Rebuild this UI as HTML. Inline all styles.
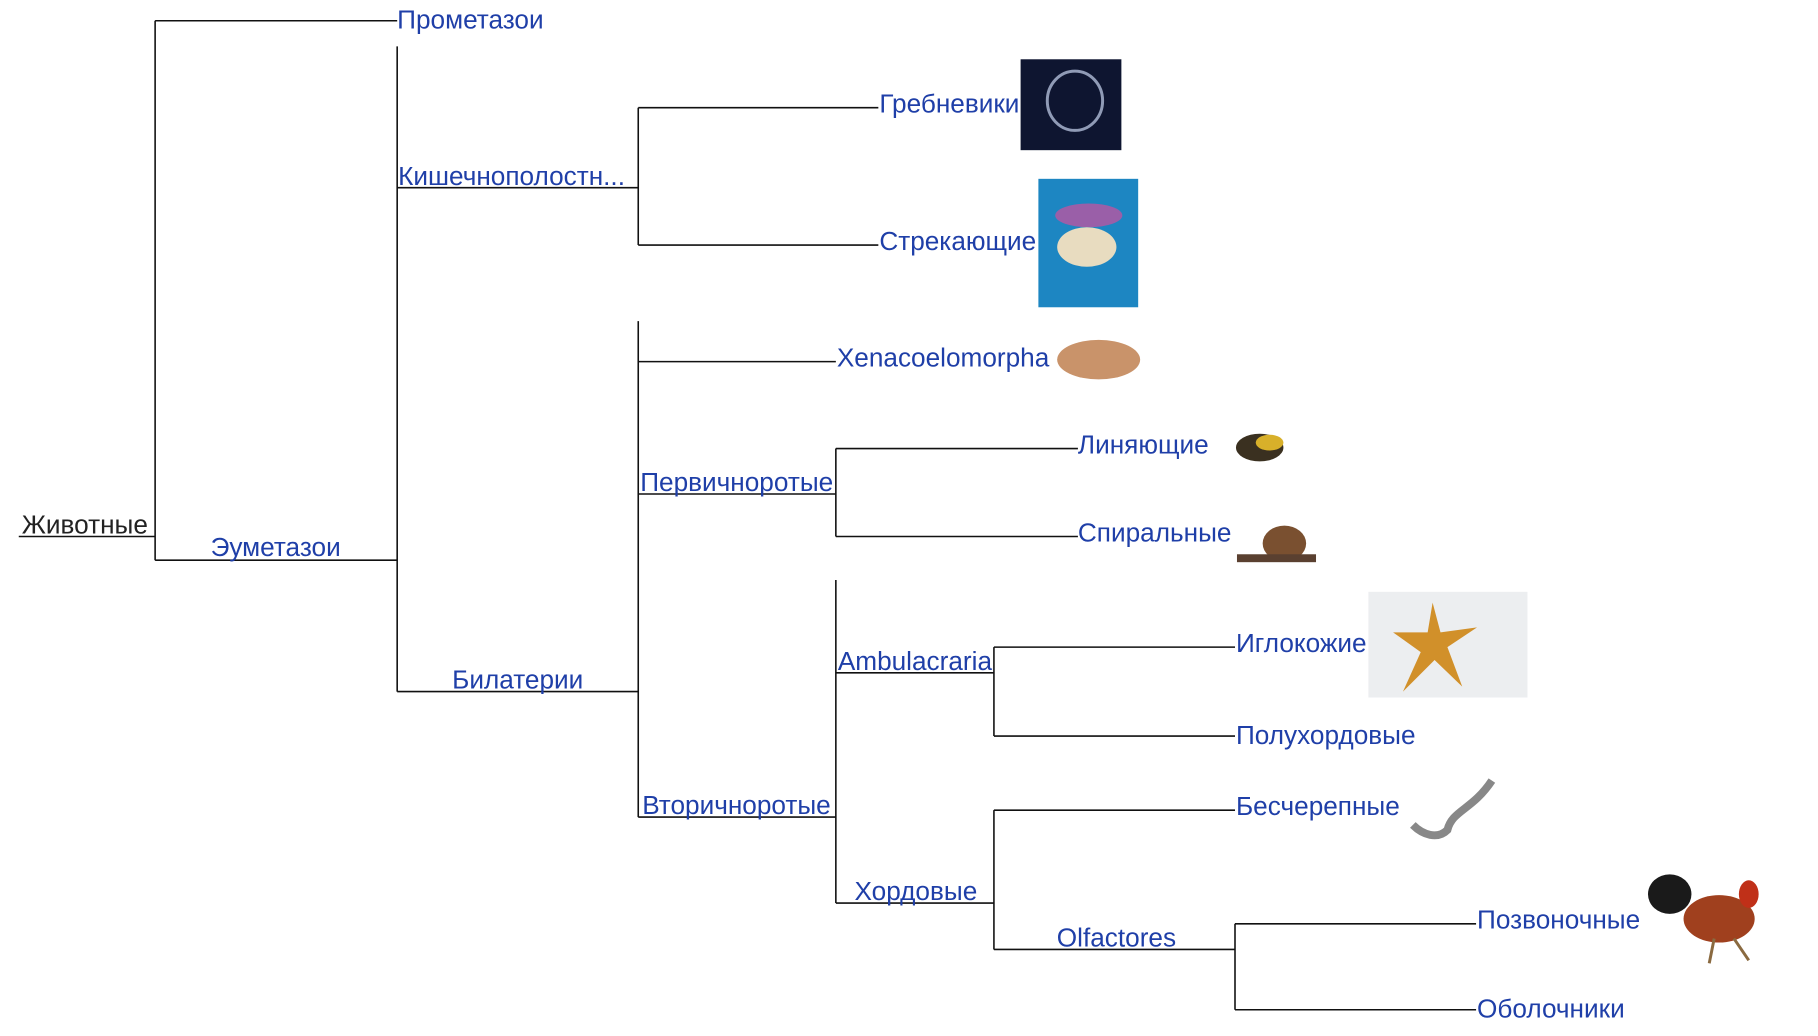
<!DOCTYPE html>
<html><head><meta charset="utf-8"><style>
html,body{margin:0;padding:0;background:#fff;width:1818px;height:1036px;overflow:hidden}
svg text{font-family:"Liberation Sans",Arial,sans-serif;font-size:26.5px;fill:#1f3fa8}
</style></head><body>
<svg width="1818" height="1036" viewBox="0 0 1818 1036" xmlns="http://www.w3.org/2000/svg">
<g transform="scale(0.988)">
<g stroke="#111" stroke-width="1.6" fill="none">
<path d="M19 543H157M157 21V567M157 21H402M157 567H402"/>
<path d="M402 47V700M402 190H646M402 700H646"/>
<path d="M646 109V248M646 109H889M646 248H889"/>
<path d="M646 325V827M646 366H846M646 500H846M646 827H846"/>
<path d="M846 454V543M846 454H1091M846 543H1091"/>
<path d="M846 587V914M846 681H1006M846 914H1006"/>
<path d="M1006 655V745M1006 655H1250M1006 745H1250"/>
<path d="M1006 820V961M1006 820H1250M1006 961H1250"/>
<path d="M1250 935V1022M1250 935H1494M1250 1022H1494"/>
</g>
<text x="22" y="540" style="fill:#222">Животные</text>
<text x="402" y="22" dominant-baseline="middle">Прометазои</text>
<text x="279" y="563" text-anchor="middle">Эуметазои</text>
<text x="403" y="187">Кишечнополостн...</text>
<text x="524" y="697" text-anchor="middle">Билатерии</text>
<text x="890" y="107" dominant-baseline="middle">Гребневики</text>
<text x="890" y="246" dominant-baseline="middle">Стрекающие</text>
<text x="847" y="364" dominant-baseline="middle">Xenacoelomorpha</text>
<text x="648" y="497">Первичноротые</text>
<text x="1091" y="452" dominant-baseline="middle">Линяющие</text>
<text x="1091" y="541" dominant-baseline="middle">Спиральные</text>
<text x="650" y="824">Вторичноротые</text>
<text x="848" y="678">Ambulacraria</text>
<text x="1251" y="653" dominant-baseline="middle">Иглокожие</text>
<text x="1251" y="746" dominant-baseline="middle">Полухордовые</text>
<text x="927" y="911" text-anchor="middle">Хордовые</text>
<text x="1251" y="818" dominant-baseline="middle">Бесчерепные</text>
<text x="1130" y="958" text-anchor="middle">Olfactores</text>
<text x="1495" y="933" dominant-baseline="middle">Позвоночные</text>
<text x="1495" y="1023" dominant-baseline="middle">Оболочники</text>
<rect x="1033" y="60" width="102" height="92" fill="#0e1530"/>
<ellipse cx="1088" cy="102" rx="28" ry="30" fill="none" stroke="#c8d4f0" stroke-width="3" opacity=".7"/>
<rect x="1051" y="181" width="101" height="130" fill="#1d86c2"/>
<ellipse cx="1102" cy="218" rx="34" ry="12" fill="#9a5fa8"/>
<ellipse cx="1100" cy="250" rx="30" ry="20" fill="#e8dcc0"/>
<ellipse cx="1112" cy="364" rx="42" ry="20" fill="#c9936a"/>
<ellipse cx="1275" cy="453" rx="24" ry="14" fill="#3a3020"/>
<ellipse cx="1285" cy="448" rx="14" ry="8" fill="#d8b02a"/>
<ellipse cx="1300" cy="550" rx="22" ry="18" fill="#7a5030"/>
<rect x="1252" y="561" width="80" height="8" fill="#5a4030"/>
<rect x="1385" y="599" width="161" height="107" fill="#eceef0"/>
<path d="M1450 610L1458 640L1495 635L1465 655L1480 695L1452 668L1420 700L1438 660L1410 640L1445 640Z" fill="#d1902a"/>
<path d="M1510 790C1490 820 1470 820 1465 840C1455 850 1440 845 1430 835" stroke="#888" stroke-width="8" fill="none"/>
<ellipse cx="1740" cy="930" rx="36" ry="24" fill="#a0401e"/>
<ellipse cx="1690" cy="905" rx="22" ry="20" fill="#1a1a1a"/>
<ellipse cx="1770" cy="905" rx="10" ry="14" fill="#c03018"/>
<path d="M1735 950L1730 975M1755 950L1770 972" stroke="#8a6a40" stroke-width="3"/>
</g>
</svg>
</body></html>
